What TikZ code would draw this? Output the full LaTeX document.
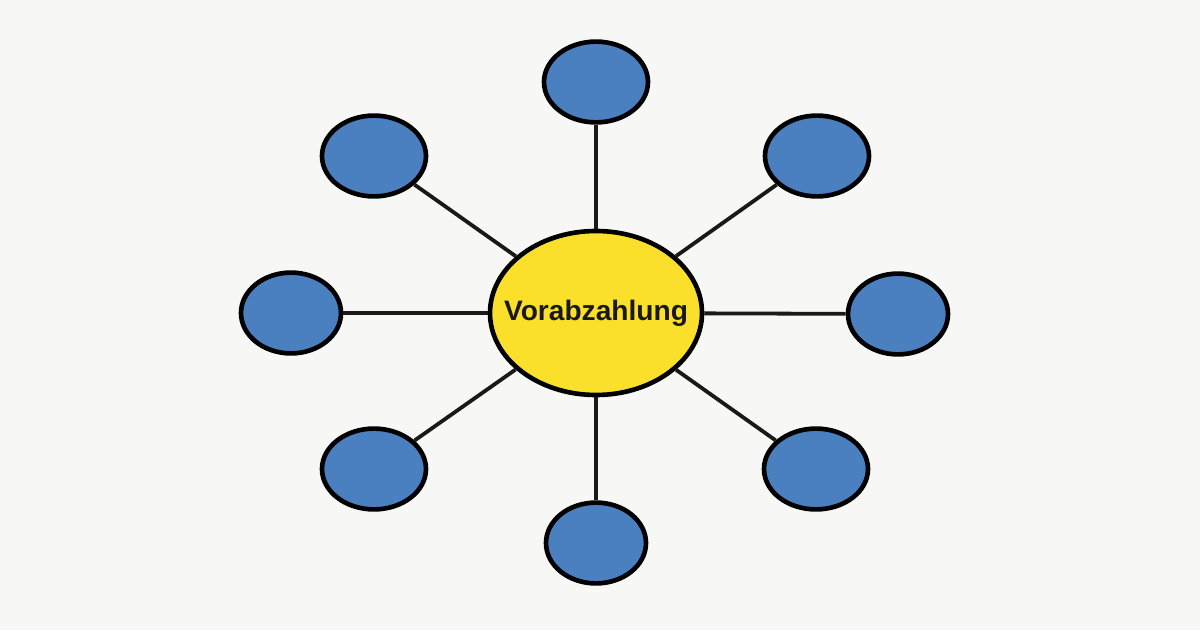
\documentclass[tikz,border=0pt]{standalone}
\usepackage{fontspec}
\setmainfont{Liberation Sans}
\usetikzlibrary{shapes}
\definecolor{bgcol}{HTML}{F7F7F5}
\definecolor{hubcol}{HTML}{FAE02A}
\definecolor{leafcol}{HTML}{4A7FC0}

\begin{document}
\begin{tikzpicture}[hub/.style={shape=ellipse,draw=black,fill=hubcol,align=center,line width=3.3pt,minimum width=5.3cm,minimum height=4.1cm,inner sep=0pt},
leaf/.style={shape=ellipse,draw=black,fill=leafcol,line width=3.3pt,minimum width=2.6cm,minimum height=2.02cm,inner sep=0pt},
spoke/.style={-,draw=black!90,line width=2.7pt}]
\fill[bgcol] (0,0) rectangle (30,15.75);
\useasboundingbox (0,0) rectangle (30,15.75);
\node[hub] (0) at (14.9,7.925) {\makebox[0pt]{\fontsize{20}{24}\selectfont\bfseries\color{black!90}Vorabzahlung}};
\node[leaf] (1) at (14.9,13.7) {};
\node[leaf] (2) at (20.425,11.85) {};
\node[leaf,minimum width=2.5cm] (3) at (22.45,7.9) {};
\node[leaf] (4) at (20.4,4.025) {};
\node[leaf,minimum width=2.5cm] (5) at (14.9,2.175) {};
\node[leaf] (6) at (9.35,4.025) {};
\node[leaf,minimum width=2.5cm] (7) at (7.275,7.925) {};
\node[leaf] (8) at (9.35,11.85) {};

\path [spoke] (0) edge node {} (1);
\path [spoke] (0) edge node {} (2);
\path [spoke] (0) edge node {} (3);
\path [spoke] (0) edge node {} (4);
\path [spoke] (0) edge node {} (5);
\path [spoke] (0) edge node {} (6);
\path [spoke] (0) edge node {} (7);
\path [spoke] (0) edge node {} (8);
\end{tikzpicture}
\end{document}
